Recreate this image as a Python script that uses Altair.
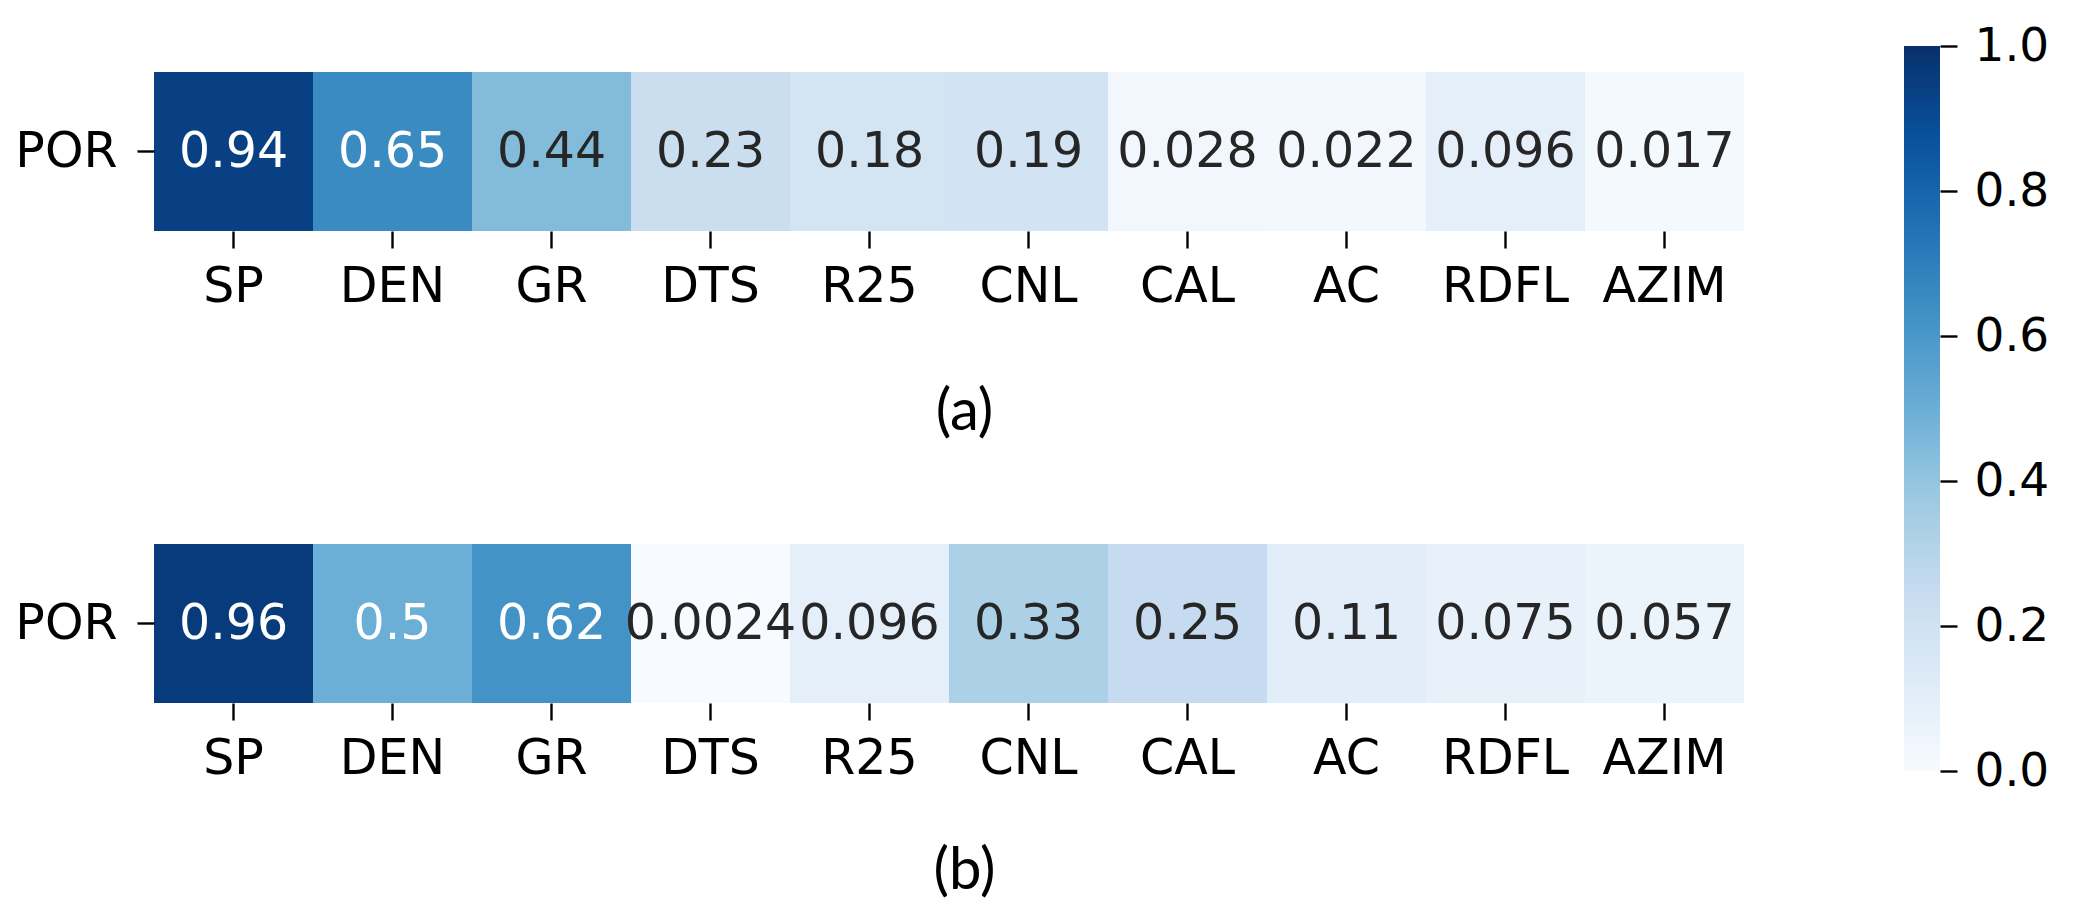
import altair as alt
import pandas as pd

features = ["SP", "DEN", "GR", "DTS", "R25", "CNL", "CAL", "AC", "RDFL", "AZIM"]
row_label = "POR"
values_a = [0.94, 0.65, 0.44, 0.23, 0.18, 0.19, 0.028, 0.022, 0.096, 0.017]
values_b = [0.96, 0.5, 0.62, 0.0024, 0.096, 0.33, 0.25, 0.11, 0.075, 0.057]
panel_titles = ["(a)", "(b)"]
cbar_ticks = [0.0, 0.2, 0.4, 0.6, 0.8, 1.0]
blues = ["#f7fbff", "#deebf7", "#c6dbef", "#9ecae1", "#6baed6",
         "#4292c6", "#2171b5", "#08519c", "#08306b"]
blue_stops = [i / (len(blues) - 1) for i in range(len(blues))]

W, H = 1590, 159
FONT = "DejaVu Sans"
FS = 49


def panel(values, title, y_range, x_offset, title_y):
    df = pd.DataFrame({"feat": features, "row": [row_label] * len(features), "v": values})
    base = alt.Chart(df).encode(
        x=alt.X("feat:N", sort=features,
                scale=alt.Scale(paddingInner=0, paddingOuter=0),
                axis=alt.Axis(orient="bottom", offset=x_offset, title=title, labelAngle=0,
                              labelFont=FONT, labelFontSize=FS, labelColor="black",
                              labelPadding=14, tickSize=17, tickWidth=2.4, tickColor="black",
                              domain=False, titleFont="Lato", titleFontSize=58,
                              titleFontWeight="normal", titleColor="black",
                              titleX=810, titleY=title_y, titleBaseline="middle",
                              titleAlign="center")),
        y=alt.Y("row:N",
                scale=alt.Scale(range=y_range, paddingInner=0, paddingOuter=0),
                axis=alt.Axis(orient="left", title=None, labelFont=FONT, labelFontSize=FS,
                              labelColor="black", labelPadding=20, tickSize=17,
                              tickWidth=2.4, tickColor="black", domain=False)),
    )
    rect = base.mark_rect().encode(
        color=alt.Color("v:Q", scale=alt.Scale(domain=blue_stops, range=blues,
                                               interpolate="rgb"), legend=None)
    )
    text = base.mark_text(font=FONT, fontSize=FS, baseline="middle").encode(
        text=alt.Text("v:Q", format=".2~g"),
        color=alt.condition("datum.v > 0.47", alt.value("white"), alt.value("#262626")),
    )
    return alt.layer(rect, text)


pa = panel(values_a, panel_titles[0], [0, H], 0, 181)
pb = panel(values_b, panel_titles[1], [472, 631], 472, 168)

cb_df = pd.DataFrame({"lo": [0.0], "hi": [1.0], "x0": [0.0], "x1": [1.0]})
cbar = alt.Chart(cb_df).mark_rect(
    fill=alt.Gradient(gradient="linear",
                      stops=[alt.GradientStop(color=c, offset=o) for c, o in zip(blues, blue_stops)],
                      x1=0, x2=0, y1=1, y2=0)
).encode(
    x=alt.X("x0:Q", scale=alt.Scale(domain=[0, 1], range=[1750, 1786], nice=False, zero=False), axis=None),
    x2="x1:Q",
    y=alt.Y("lo:Q", scale=alt.Scale(domain=[0, 1], range=[699, -26], nice=False, zero=False),
            axis=alt.Axis(orient="right", offset=196, values=cbar_ticks, format=".1f",
                          title=None, labelFont=FONT, labelFontSize=47, labelColor="black",
                          labelPadding=17, tickSize=17, tickWidth=2.4, tickColor="black",
                          domain=False, grid=False)),
    y2="hi:Q",
)

chart = alt.layer(pa, pb, cbar).resolve_scale(
    x="independent", y="independent", color="independent"
).properties(
    width=W, height=H,
    autosize=alt.AutoSizeParams(type="none"),
    padding={"left": 146, "top": 64, "right": 318, "bottom": 670},
    background="white",
).configure_view(stroke=None)

chart.save("out.html", embed_options={"renderer": "svg", "actions": False})
